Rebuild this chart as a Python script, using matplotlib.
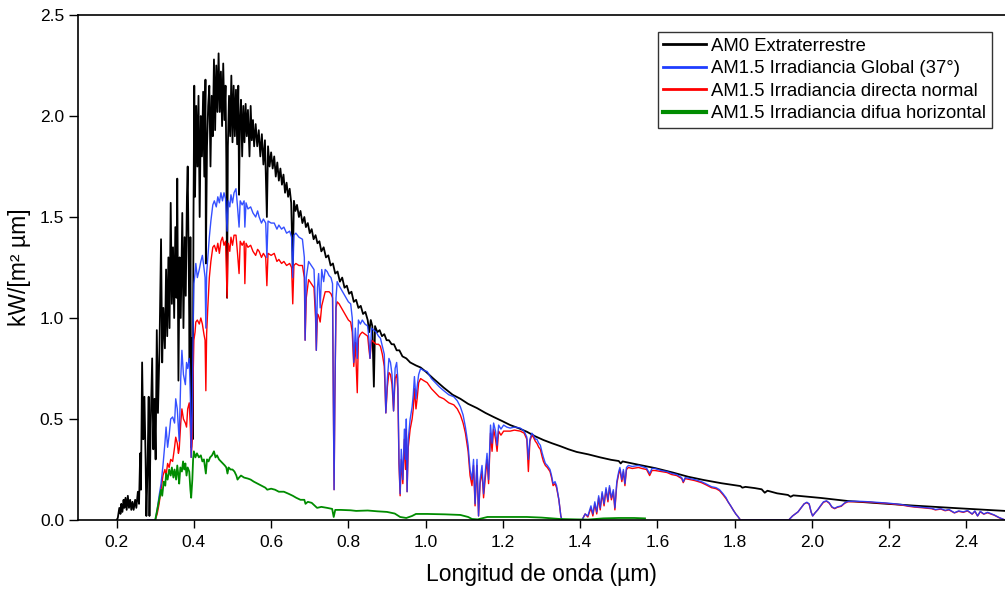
import matplotlib
matplotlib.use("Agg")
import matplotlib.pyplot as plt

plt.rcParams["font.family"] = ["Liberation Sans", "DejaVu Sans"]

# AM0 extraterrestre (kW/m2/um)
wl_am0 = [
    0.200, 0.203, 0.207, 0.210, 0.212, 0.215, 0.218, 0.220, 0.223, 0.226,
    0.229, 0.232, 0.235, 0.238, 0.241, 0.244, 0.248, 0.251, 0.255, 0.258,
    0.261, 0.263, 0.266, 0.269, 0.272, 0.275, 0.277, 0.280, 0.283, 0.285,
    0.288, 0.292, 0.295, 0.298, 0.301, 0.304, 0.307, 0.311, 0.315, 0.318,
    0.321, 0.325, 0.328, 0.331, 0.334, 0.337, 0.340, 0.343, 0.346, 0.349,
    0.352, 0.355, 0.357, 0.360, 0.363, 0.366, 0.370, 0.373, 0.376, 0.379,
    0.382, 0.384, 0.387, 0.389, 0.391, 0.393, 0.395, 0.397, 0.399, 0.401,
    0.403, 0.406, 0.409, 0.412, 0.415, 0.418, 0.421, 0.424, 0.427, 0.430,
    0.431, 0.434, 0.437, 0.440, 0.443, 0.446, 0.449, 0.452, 0.455, 0.458,
    0.461, 0.464, 0.467, 0.470, 0.473, 0.476, 0.479, 0.482, 0.484, 0.486,
    0.488, 0.491, 0.494, 0.497, 0.500, 0.503, 0.506, 0.509, 0.512, 0.515,
    0.517, 0.519, 0.522, 0.525, 0.528, 0.531, 0.534, 0.537, 0.540, 0.544,
    0.547, 0.550, 0.553, 0.556, 0.560, 0.564, 0.568, 0.572, 0.576, 0.580,
    0.584, 0.589, 0.592, 0.596, 0.600, 0.604, 0.608, 0.612, 0.616, 0.620,
    0.624, 0.628, 0.632, 0.636, 0.640, 0.644, 0.648, 0.652, 0.656, 0.659,
    0.663, 0.667, 0.672, 0.676, 0.681, 0.686, 0.690, 0.695, 0.700, 0.705,
    0.710, 0.715, 0.720, 0.725, 0.730, 0.736, 0.742, 0.748, 0.754, 0.760,
    0.766, 0.772, 0.778, 0.784, 0.790, 0.796, 0.802, 0.808, 0.814, 0.820,
    0.826, 0.832, 0.838, 0.844, 0.850, 0.854, 0.858, 0.862, 0.866, 0.869,
    0.875, 0.881, 0.887, 0.893, 0.899, 0.905, 0.912, 0.918, 0.925, 0.932,
    0.940, 0.950, 0.960, 0.975, 0.987, 1.000, 1.020, 1.047, 1.070, 1.090,
    1.110, 1.133, 1.155, 1.176, 1.198, 1.219, 1.240, 1.262, 1.283, 1.305,
    1.327, 1.348, 1.370, 1.391, 1.421, 1.452, 1.480, 1.500, 1.505, 1.510,
    1.550, 1.594, 1.640, 1.680, 1.720, 1.766, 1.800, 1.815, 1.820, 1.828,
    1.852, 1.870, 1.878, 1.885, 1.910, 1.938, 1.945, 1.952, 2.024, 2.093,
    2.180, 2.266, 2.380, 2.500,
]
am0 = [
    0.0, 0.01, 0.06, 0.03, 0.08, 0.04, 0.10, 0.06, 0.11, 0.05,
    0.12, 0.06, 0.10, 0.05, 0.09, 0.05, 0.10, 0.06, 0.14, 0.08,
    0.33, 0.15, 0.78, 0.40, 0.61, 0.30, 0.02, 0.25, 0.61, 0.02,
    0.45, 0.80, 0.35, 0.60, 0.30, 0.94, 0.53, 0.85, 1.39, 0.78,
    1.05, 0.85, 1.24, 0.91, 1.30, 0.95, 1.57, 1.07, 1.35, 1.00,
    1.45, 1.10, 1.69, 0.69, 1.30, 1.00, 1.52, 0.95, 1.40, 1.11,
    1.60, 1.75, 1.20, 0.78, 1.40, 0.36, 0.90, 0.40, 1.50, 2.15,
    1.60, 2.05, 1.75, 2.10, 1.50, 2.00, 1.80, 2.12, 1.70, 2.18,
    1.27, 1.85, 2.05, 2.15, 1.75, 2.10, 1.90, 2.28, 1.93, 2.25,
    2.02, 2.31, 2.02, 2.22, 1.95, 2.26, 1.98, 2.15, 1.78, 1.10,
    1.85, 2.10, 1.90, 2.20, 1.87, 2.15, 1.90, 2.13, 1.86, 2.15,
    1.61, 1.95, 2.08, 1.80, 2.05, 1.87, 2.06, 1.90, 2.03, 1.80,
    2.05, 1.88, 1.98, 1.85, 1.96, 1.85, 1.93, 1.80, 1.91, 1.76,
    1.88, 1.50, 1.85, 1.75, 1.82, 1.74, 1.80, 1.70, 1.77, 1.68,
    1.74, 1.66, 1.71, 1.62, 1.67, 1.60, 1.64, 1.57, 1.25, 1.58,
    1.53, 1.56, 1.50, 1.53, 1.47, 1.50, 1.45, 1.47, 1.42, 1.44,
    1.39, 1.41, 1.37, 1.38, 1.33, 1.35, 1.30, 1.31, 1.26, 1.27,
    1.22, 1.23, 1.18, 1.20, 1.15, 1.16, 1.12, 1.13, 1.08, 1.09,
    1.05, 1.06, 1.02, 1.03, 0.99, 0.93, 0.99, 0.96, 0.66, 0.96,
    0.93, 0.94, 0.91, 0.92, 0.89, 0.89, 0.87, 0.87, 0.84, 0.84,
    0.81, 0.80, 0.78, 0.765, 0.755, 0.735, 0.70, 0.655, 0.62, 0.60,
    0.575, 0.554, 0.53, 0.51, 0.49, 0.47, 0.455, 0.437, 0.415, 0.396,
    0.38, 0.366, 0.35, 0.337, 0.325, 0.31, 0.298, 0.292, 0.28, 0.29,
    0.274, 0.257, 0.235, 0.214, 0.198, 0.182, 0.172, 0.168, 0.16, 0.164,
    0.158, 0.152, 0.135, 0.145, 0.132, 0.124, 0.115, 0.122, 0.109, 0.094,
    0.082, 0.071, 0.058, 0.045,
]

# AM1.5 global (37 deg tilt) and direct normal, same wavelength grid
wl_am15 = [
    0.280, 0.300, 0.305, 0.310, 0.315, 0.320, 0.325, 0.328, 0.332, 0.336,
    0.340, 0.345, 0.350, 0.353, 0.357, 0.360, 0.362, 0.366, 0.369, 0.373,
    0.378, 0.381, 0.384, 0.388, 0.391, 0.393, 0.396, 0.398, 0.400, 0.403,
    0.405, 0.409, 0.414, 0.418, 0.422, 0.426, 0.429, 0.431, 0.433, 0.436,
    0.440, 0.444, 0.449, 0.453, 0.458, 0.462, 0.466, 0.470, 0.474, 0.478,
    0.482, 0.486, 0.489, 0.493, 0.496, 0.500, 0.504, 0.509, 0.513, 0.517,
    0.520, 0.525, 0.530, 0.532, 0.535, 0.540, 0.547, 0.553, 0.560, 0.565,
    0.569, 0.575, 0.580, 0.586, 0.589, 0.592, 0.600, 0.608, 0.615, 0.620,
    0.627, 0.633, 0.640, 0.648, 0.653, 0.656, 0.659, 0.664, 0.672, 0.681,
    0.686, 0.688, 0.691, 0.697, 0.704, 0.711, 0.715, 0.717, 0.720, 0.723,
    0.727, 0.731, 0.736, 0.740, 0.745, 0.750, 0.755, 0.759, 0.761, 0.763,
    0.765, 0.768, 0.771, 0.776, 0.782, 0.788, 0.794, 0.800, 0.806, 0.810,
    0.814, 0.818, 0.823, 0.826, 0.831, 0.836, 0.843, 0.850, 0.853, 0.856,
    0.860, 0.866, 0.872, 0.878, 0.883, 0.888, 0.893, 0.897, 0.901, 0.905,
    0.909, 0.913, 0.917, 0.921, 0.925, 0.928, 0.931, 0.934, 0.937, 0.941,
    0.945, 0.948, 0.950, 0.952, 0.955, 0.960, 0.965, 0.968, 0.971, 0.975,
    0.978, 0.982, 0.987, 0.995, 1.004, 1.015, 1.025, 1.035, 1.047, 1.060,
    1.073, 1.082, 1.090, 1.097, 1.103, 1.110, 1.115, 1.120, 1.124, 1.128,
    1.133, 1.137, 1.141, 1.146, 1.150, 1.155, 1.159, 1.163, 1.168, 1.172,
    1.176, 1.181, 1.185, 1.189, 1.195, 1.202, 1.210, 1.219, 1.230, 1.245,
    1.255, 1.262, 1.266, 1.270, 1.275, 1.279, 1.284, 1.288, 1.293, 1.297,
    1.302, 1.305, 1.310, 1.315, 1.322, 1.326, 1.330, 1.335, 1.339, 1.345,
    1.350, 1.353, 1.405, 1.413, 1.420, 1.428, 1.433, 1.438, 1.443, 1.448,
    1.452, 1.457, 1.462, 1.467, 1.472, 1.476, 1.481, 1.486, 1.490, 1.495,
    1.500, 1.503, 1.508, 1.512, 1.516, 1.520, 1.525, 1.535, 1.551, 1.560,
    1.572, 1.580, 1.586, 1.594, 1.610, 1.625, 1.637, 1.650, 1.663, 1.667,
    1.672, 1.685, 1.697, 1.706, 1.714, 1.725, 1.740, 1.752, 1.761, 1.770,
    1.778, 1.783, 1.790, 1.796, 1.803, 1.809, 1.815, 1.940, 1.950, 1.957,
    1.964, 1.972, 1.980, 1.987, 1.993, 1.998, 2.002, 2.008, 2.015, 2.022,
    2.030, 2.038, 2.045, 2.052, 2.059, 2.066, 2.076, 2.085, 2.093, 2.110,
    2.130, 2.150, 2.179, 2.200, 2.215, 2.230, 2.250, 2.266, 2.290, 2.310,
    2.320, 2.334, 2.345, 2.355, 2.369, 2.380, 2.392, 2.403, 2.415, 2.422,
    2.429, 2.436, 2.445, 2.455, 2.463, 2.472, 2.485, 2.500,
]
global_37 = [
    0, 0, 0.05, 0.12, 0.18, 0.27, 0.38, 0.46, 0.36, 0.42,
    0.50, 0.51, 0.48, 0.60, 0.55, 0.45, 0.39, 0.70, 0.84, 0.72,
    0.67, 0.78, 0.75, 0.80, 0.60, 0.31, 0.55, 0.95, 1.17, 1.22,
    1.27, 1.20, 1.24, 1.28, 1.31, 1.25, 1.20, 0.95, 1.22, 1.30,
    1.40, 1.48, 1.56, 1.58, 1.55, 1.60, 1.57, 1.62, 1.58, 1.62,
    1.59, 1.43, 1.58, 1.55, 1.61, 1.57, 1.62, 1.64, 1.55, 1.45,
    1.58, 1.56, 1.58, 1.45, 1.57, 1.54, 1.55, 1.52, 1.50, 1.53,
    1.50, 1.47, 1.49, 1.47, 1.30, 1.48, 1.47, 1.47, 1.44, 1.46,
    1.44, 1.45, 1.42, 1.43, 1.40, 1.20, 1.41, 1.42, 1.40, 1.39,
    1.30, 0.89, 1.20, 1.28, 1.26, 1.24, 1.05, 0.84, 1.15, 1.22,
    1.05, 1.24, 1.18, 1.24, 1.23, 1.21, 1.20, 1.17, 0.60, 0.15,
    0.60, 1.10, 1.18, 1.16, 1.14, 1.12, 1.10, 1.08, 1.07, 1.00,
    0.78, 0.95, 0.80, 0.99, 0.97, 0.99, 0.97, 0.96, 0.90, 0.80,
    0.95, 0.94, 0.93, 0.91, 0.90, 0.86, 0.82, 0.53, 0.70, 0.80,
    0.78, 0.72, 0.54, 0.75, 0.78, 0.70, 0.30, 0.13, 0.35, 0.20,
    0.45, 0.30, 0.50, 0.14, 0.40, 0.50, 0.56, 0.62, 0.71, 0.60,
    0.66, 0.72, 0.75, 0.74, 0.735, 0.70, 0.68, 0.66, 0.64, 0.62,
    0.61, 0.59, 0.56, 0.52, 0.46, 0.37, 0.25, 0.20, 0.30, 0.08,
    0.30, 0.02, 0.20, 0.27, 0.13, 0.25, 0.33, 0.20, 0.47, 0.38,
    0.48, 0.44, 0.37, 0.47, 0.45, 0.47, 0.46, 0.455, 0.46, 0.455,
    0.44, 0.41, 0.30, 0.40, 0.43, 0.42, 0.40, 0.40, 0.38, 0.37,
    0.33, 0.31, 0.28, 0.27, 0.25, 0.22, 0.18, 0.19, 0.17, 0.10,
    0.02, 0, 0, 0.03, 0.02, 0.07, 0.03, 0.09, 0.04, 0.12,
    0.06, 0.14, 0.08, 0.16, 0.10, 0.17, 0.11, 0.15, 0.06, 0.19,
    0.24, 0.26, 0.20, 0.25, 0.18, 0.26, 0.27, 0.265, 0.27, 0.265,
    0.257, 0.23, 0.255, 0.255, 0.245, 0.24, 0.231, 0.225, 0.21, 0.19,
    0.21, 0.205, 0.20, 0.195, 0.19, 0.18, 0.165, 0.16, 0.15, 0.13,
    0.11, 0.09, 0.07, 0.05, 0.03, 0.016, 0, 0, 0.02, 0.03,
    0.04, 0.06, 0.08, 0.088, 0.08, 0.04, 0.02, 0.035, 0.05, 0.07,
    0.09, 0.095, 0.085, 0.065, 0.058, 0.065, 0.07, 0.085, 0.092, 0.093,
    0.092, 0.09, 0.086, 0.083, 0.08, 0.077, 0.07, 0.066, 0.062, 0.058,
    0.052, 0.056, 0.048, 0.052, 0.036, 0.045, 0.04, 0.047, 0.03, 0.045,
    0.02, 0.043, 0.03, 0.038, 0.032, 0.025, 0.012, 0,
]
direct_normal = [
    0, 0, 0.03, 0.08, 0.15, 0.22, 0.25, 0.22, 0.28, 0.26,
    0.30, 0.29, 0.36, 0.41, 0.38, 0.33, 0.35, 0.48, 0.55, 0.50,
    0.48, 0.46, 0.55, 0.58, 0.45, 0.31, 0.40, 0.70, 0.89, 0.93,
    0.98, 0.99, 0.97, 1.00, 0.97, 0.92, 0.89, 0.64, 0.92, 1.05,
    1.20, 1.28, 1.35, 1.36, 1.33, 1.37, 1.32, 1.38, 1.40, 1.36,
    1.38, 1.10, 1.37, 1.33, 1.40, 1.36, 1.41, 1.41, 1.32, 1.22,
    1.38, 1.36, 1.38, 1.17, 1.37, 1.35, 1.36, 1.33, 1.31, 1.34,
    1.33, 1.30, 1.32, 1.30, 1.16, 1.32, 1.31, 1.32, 1.28, 1.29,
    1.27, 1.28, 1.26, 1.27, 1.25, 1.07, 1.26, 1.27, 1.26, 1.26,
    1.20, 0.89, 1.10, 1.19, 1.17, 1.15, 1.00, 0.84, 1.02, 1.01,
    0.98, 1.06, 1.10, 1.13, 1.13, 1.13, 1.12, 1.10, 0.60, 0.15,
    0.60, 1.05, 1.08, 1.07, 1.05, 1.03, 1.01, 0.99, 0.98, 0.93,
    0.76, 0.88, 0.63, 0.90, 0.92, 0.93, 0.92, 0.91, 0.85, 0.80,
    0.89, 0.88, 0.87, 0.87, 0.86, 0.82, 0.76, 0.53, 0.66, 0.73,
    0.72, 0.67, 0.54, 0.70, 0.72, 0.65, 0.28, 0.12, 0.30, 0.18,
    0.40, 0.25, 0.45, 0.14, 0.36, 0.45, 0.50, 0.55, 0.65, 0.55,
    0.60, 0.68, 0.70, 0.69, 0.68, 0.65, 0.63, 0.61, 0.60, 0.58,
    0.57, 0.55, 0.52, 0.48, 0.43, 0.34, 0.22, 0.17, 0.27, 0.07,
    0.27, 0.02, 0.18, 0.24, 0.11, 0.22, 0.30, 0.18, 0.43, 0.34,
    0.45, 0.40, 0.34, 0.44, 0.42, 0.44, 0.44, 0.44, 0.445, 0.44,
    0.43, 0.40, 0.24, 0.39, 0.42, 0.41, 0.39, 0.38, 0.36, 0.35,
    0.31, 0.29, 0.27, 0.26, 0.24, 0.21, 0.17, 0.18, 0.16, 0.10,
    0.02, 0, 0, 0.03, 0.015, 0.06, 0.02, 0.08, 0.03, 0.11,
    0.05, 0.13, 0.07, 0.15, 0.09, 0.16, 0.10, 0.14, 0.05, 0.18,
    0.23, 0.25, 0.19, 0.24, 0.17, 0.25, 0.26, 0.255, 0.26, 0.255,
    0.25, 0.22, 0.245, 0.245, 0.24, 0.235, 0.225, 0.22, 0.205, 0.185,
    0.205, 0.20, 0.195, 0.19, 0.185, 0.175, 0.16, 0.155, 0.145, 0.125,
    0.105, 0.09, 0.07, 0.05, 0.03, 0.016, 0, 0, 0.02, 0.03,
    0.04, 0.06, 0.08, 0.086, 0.078, 0.04, 0.02, 0.035, 0.05, 0.068,
    0.088, 0.093, 0.083, 0.063, 0.056, 0.063, 0.068, 0.083, 0.09, 0.091,
    0.09, 0.088, 0.084, 0.081, 0.078, 0.075, 0.068, 0.064, 0.06, 0.056,
    0.05, 0.054, 0.046, 0.05, 0.035, 0.043, 0.038, 0.045, 0.029, 0.043,
    0.02, 0.041, 0.029, 0.036, 0.03, 0.024, 0.011, 0,
]

# AM1.5 difusa horizontal
wl_diffuse = [
    0.300, 0.305, 0.310, 0.315, 0.318, 0.322, 0.326, 0.328, 0.332, 0.336,
    0.340, 0.343, 0.347, 0.350, 0.354, 0.357, 0.360, 0.362, 0.365, 0.369,
    0.372, 0.375, 0.378, 0.381, 0.384, 0.388, 0.391, 0.393, 0.396, 0.398,
    0.400, 0.404, 0.408, 0.413, 0.418, 0.422, 0.426, 0.431, 0.434, 0.438,
    0.442, 0.447, 0.452, 0.456, 0.460, 0.465, 0.470, 0.475, 0.480, 0.484,
    0.487, 0.490, 0.495, 0.500, 0.505, 0.510, 0.513, 0.517, 0.522, 0.530,
    0.540, 0.547, 0.555, 0.565, 0.575, 0.585, 0.590, 0.600, 0.610, 0.620,
    0.633, 0.645, 0.656, 0.665, 0.676, 0.686, 0.689, 0.695, 0.705, 0.719,
    0.730, 0.745, 0.758, 0.762, 0.766, 0.780, 0.806, 0.820, 0.850, 0.875,
    0.900, 0.920, 0.934, 0.950, 0.965, 0.975, 1.004, 1.050, 1.090, 1.110,
    1.120, 1.135, 1.160, 1.200, 1.262, 1.300, 1.348, 1.390, 1.420, 1.460,
    1.500, 1.540, 1.568,
]
diffuse = [
    0.0, 0.05, 0.10, 0.15, 0.12, 0.19, 0.17, 0.23, 0.20, 0.25,
    0.22, 0.26, 0.21, 0.25, 0.20, 0.27, 0.22, 0.18, 0.26, 0.24,
    0.29, 0.25, 0.28, 0.22, 0.26, 0.24, 0.15, 0.11, 0.20, 0.30,
    0.34, 0.31, 0.33, 0.31, 0.32, 0.29, 0.30, 0.23, 0.30, 0.29,
    0.31, 0.32, 0.34, 0.31, 0.32, 0.30, 0.29, 0.28, 0.27, 0.26,
    0.23, 0.26, 0.25, 0.25, 0.24, 0.22, 0.20, 0.21, 0.22, 0.21,
    0.205, 0.20, 0.19, 0.18, 0.17, 0.16, 0.15, 0.155, 0.15, 0.14,
    0.14, 0.13, 0.12, 0.11, 0.10, 0.10, 0.08, 0.09, 0.085, 0.06,
    0.065, 0.06, 0.055, 0.015, 0.05, 0.05, 0.048, 0.045, 0.047, 0.043,
    0.04, 0.032, 0.015, 0.01, 0.02, 0.03, 0.03, 0.028, 0.025, 0.015,
    0.005, 0.003, 0.015, 0.015, 0.015, 0.012, 0.005, 0.003, 0.002, 0.008,
    0.01, 0.01, 0.008,
]

labels = ["AM0 Extraterrestre", "AM1.5 Irradiancia Global (37°)",
          "AM1.5 Irradiancia directa normal", "AM1.5 Irradiancia difua horizontal"]

fig = plt.figure(figsize=(10.05, 5.89), dpi=100)
ax = fig.add_axes([78/1005, 69/589, 927/1005, 505/589])

l0, = ax.plot(wl_am0, am0, color="black", lw=1.3, label=labels[0])
l2, = ax.plot(wl_am15, direct_normal, color="#ff0000", lw=1.0, label=labels[2])
l1, = ax.plot(wl_am15, global_37, color="#1f3dff", lw=1.0, alpha=0.9, label=labels[1])
l3, = ax.plot(wl_diffuse, diffuse, color="#008c00", lw=1.3, label=labels[3])

ax.set_xlim(0.1, 2.5)
ax.set_ylim(0, 2.5)
ax.set_xticks([0.2, 0.4, 0.6, 0.8, 1.0, 1.2, 1.4, 1.6, 1.8, 2.0, 2.2, 2.4])
ax.set_yticks([0.0, 0.5, 1.0, 1.5, 2.0, 2.5])
ax.set_xticklabels(["%.1f" % t for t in ax.get_xticks()])
ax.set_yticklabels(["%.1f" % t for t in ax.get_yticks()])
ax.tick_params(direction="out", width=1.0, labelsize=12.5, top=False, right=False)
ax.tick_params(axis="x", length=6, pad=5)
ax.tick_params(axis="y", length=6.5, pad=3.5)
for s in ["left", "bottom", "top"]:
    ax.spines[s].set_linewidth(1.2)
ax.spines["right"].set_visible(False)

ax.set_xlabel("Longitud de onda (µm)", fontsize=16.5, labelpad=9)
ax.set_ylabel("kW/[m² µm]", fontsize=16.5, labelpad=6)

leg = ax.legend(handles=[l0, l1, l2, l3], loc="upper right", fontsize=13.3,
                frameon=True, fancybox=False, handlelength=2.3,
                handletextpad=0.3, borderpad=0.3, labelspacing=0.3,
                borderaxespad=0)
leg.set_bbox_to_anchor((992/1005, 1 - 32/589), transform=fig.transFigure)
leg.get_frame().set_edgecolor("black")
leg.get_frame().set_linewidth(1.0)
for h, w in zip(leg.get_lines(), [2.0, 2.0, 2.0, 3.0]):
    h.set_linewidth(w)
    h.set_alpha(1.0)

fig.savefig("out.png", dpi=100)
